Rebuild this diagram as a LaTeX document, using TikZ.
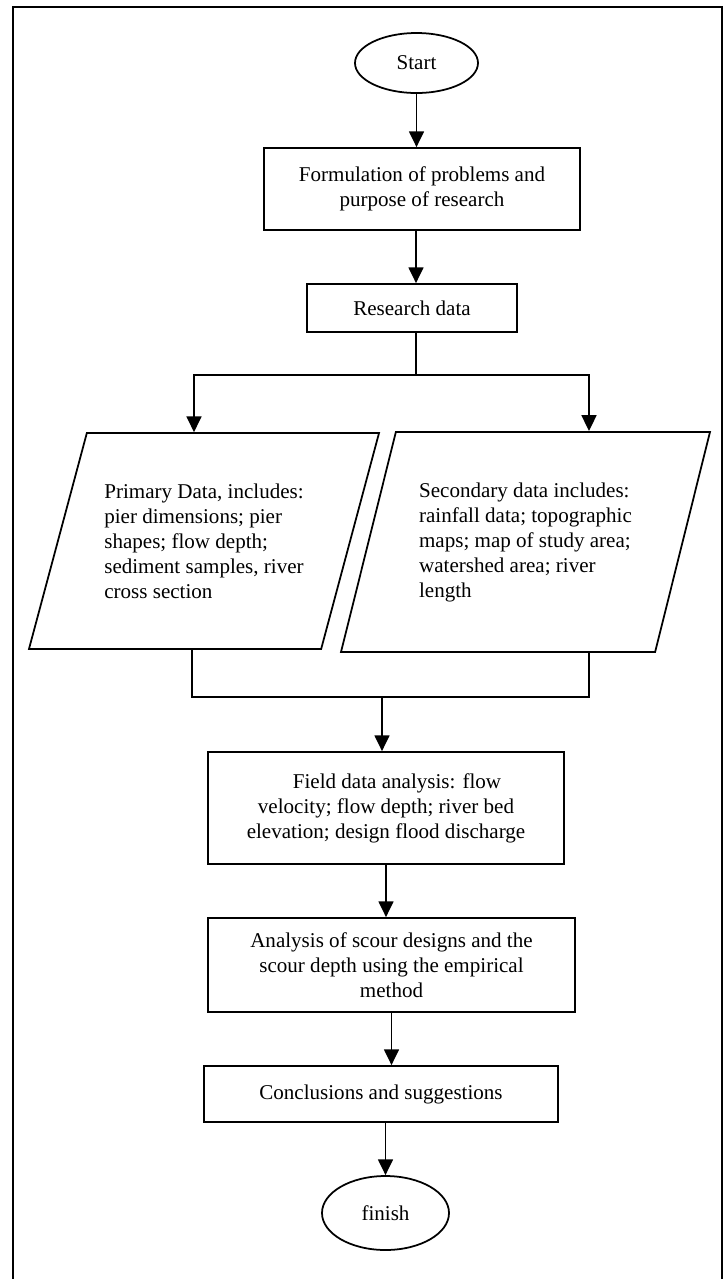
\documentclass[tikz,border=0pt]{standalone}
\usepackage{fontspec}
\setmainfont{Liberation Serif}
\usetikzlibrary{shapes.geometric,arrows.meta}
\newlength{\pxu}\setlength{\pxu}{0.57pt}
\begin{document}
\begin{tikzpicture}[x=0.57pt,y=-0.57pt,
    every node/.style={font=\fontsize{12}{14.25}\selectfont},
    terminal/.style={ellipse, draw, line width=1pt, inner sep=0pt},
    process/.style={rectangle, draw, line width=1pt, align=center, inner sep=0pt},
    dataio/.style={trapezium, trapezium left angle=75, trapezium right angle=105,
        trapezium stretches body, draw, line width=1pt, align=left,
        inner xsep=0pt, inner ysep=50.5\pxu},
    flow/.style={line width=1pt, -{Triangle[length=9pt,width=8.5pt]}},
    link/.style={line width=1pt}]
    \useasboundingbox (0,0) rectangle (727,1279);
    % outer frame (open at the bottom)
    \draw[link] (13,1279) -- (13,7) -- (722,7) -- (722,1279);

    % flowchart boxes
    \node at (416.5,63) (start) [terminal, minimum width=123\pxu, minimum height=60\pxu] {Start};
    \node at (422,189) (formulation) [process, minimum width=316\pxu, minimum height=82\pxu] {Formulation of problems and\\purpose of research};
    \node at (412,308) (research) [process, minimum width=210\pxu, minimum height=48\pxu] {Research data};
    \node at (204,541) (primary) [dataio, minimum width=350\pxu] {Primary Data, includes:\\pier dimensions; pier\\shapes; flow depth;\\sediment samples, river\\cross section};
    \node at (525.5,542) (secondary) [dataio, trapezium left angle=76, trapezium right angle=104, minimum width=369\pxu] {Secondary data includes:\\rainfall data; topographic\\maps; map of study area;\\watershed area; river\\length};
    \node at (386,808) (field) [process, minimum width=356\pxu, minimum height=112\pxu] {\hspace*{22\pxu}Field data analysis: flow\\velocity; flow depth; river bed\\elevation; design flood discharge};
    \node at (391.5,965) (analysis) [process, minimum width=367\pxu, minimum height=94\pxu] {Analysis of scour designs and the\\scour depth using the empirical\\method};
    \node at (381,1094) (conclusion) [process, minimum width=354\pxu, minimum height=56\pxu] {Conclusions and suggestions};
    \node at (385.5,1213) (finish) [terminal, minimum width=127\pxu, minimum height=74\pxu] {finish};

    % branch and join points
    \coordinate (split) at (416,375);
    \coordinate (lbranch) at (194,375);
    \coordinate (rbranch) at (589,375);
    \coordinate (join) at (382,697);
    \coordinate (ljoin) at (192,697);
    \coordinate (rjoin) at (589,697);

    % connectors
    \draw[flow] (start.south) -- (start.south |- formulation.north);
    \draw[flow] (formulation.south -| split) -- (research.north -| split);
    \draw[link] (research.south -| split) -- (split);
    \draw[flow] (split) -| (primary.north -| lbranch);
    \draw[flow] (split) -| (secondary.north -| rbranch);
    \draw[link] (primary.south -| ljoin) -- (ljoin) -- (rjoin) -- (secondary.south -| rjoin);
    \draw[flow] (join) -- (field.north -| join);
    \draw[flow] (field.south) -- (field.south |- analysis.north);
    \draw[flow] (analysis.south) -- (analysis.south |- conclusion.north);
    \draw[flow] (conclusion.south -| finish) -- (finish.north);
\end{tikzpicture}
\end{document}
